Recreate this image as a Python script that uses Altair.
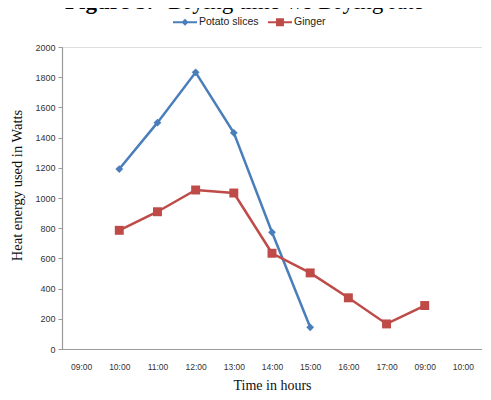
import altair as alt
import pandas as pd

# ---- data ----
time_labels = ["09:00", "10:00", "11:00", "12:00", "13:00", "14:00",
               "15:00", "16:00", "17:00", "09:00", "10:00"]
series_names = ["Potato slices", "Ginger"]
potato_idx = [1, 2, 3, 4, 5, 6]
potato_vals = [1192, 1499, 1832, 1432, 773, 144]
ginger_idx = [1, 2, 3, 4, 5, 6, 7, 8, 9]
ginger_vals = [786, 909, 1053, 1033, 634, 504, 339, 166, 288]
y_ticks = [0, 200, 400, 600, 800, 1000, 1200, 1400, 1600, 1800, 2000]
title_bold = "Figure 5."
title_rest = "Drying time v/s Drying rate"
x_title = "Time in hours"
y_title = "Heat energy used in Watts"
colors = ["#4A7EBB", "#BE4B48"]
shapes = ["diamond", "square"]
sizes = [60, 80]

rows = []
for i, v in zip(potato_idx, potato_vals):
    rows.append({"idx": i, "value": v, "series": series_names[0]})
for i, v in zip(ginger_idx, ginger_vals):
    rows.append({"idx": i, "value": v, "series": series_names[1]})
df = pd.DataFrame(rows)

label_expr = "[" + ",".join("'%s'" % t for t in time_labels) + "][datum.value]"

x_enc = alt.X(
    "idx:O",
    scale=alt.Scale(domain=list(range(len(time_labels))), paddingInner=0, paddingOuter=0),
    axis=alt.Axis(
        title=x_title, labelExpr=label_expr, labelAngle=0, ticks=False,
        labelFont="Liberation Sans", labelFontSize=8.5, labelColor="#333333",
        labelPadding=13, domainColor="#9a9a9a", domainWidth=1.2,
        titleFont="Liberation Serif", titleFontSize=14, titleFontWeight="normal",
        titleColor="#111111", titleY=40, titleBaseline="alphabetic",
    ),
)
y_enc = alt.Y(
    "value:Q",
    scale=alt.Scale(domain=[0, 2000], nice=False),
    axis=alt.Axis(
        title=y_title, values=y_ticks, format="d", grid=False, tickSize=4,
        tickColor="#9a9a9a", domainColor="#9a9a9a", domainWidth=1.2,
        labelFont="Liberation Sans", labelFontSize=9, labelColor="#333333",
        labelPadding=3,
        titleFont="Liberation Serif", titleFontSize=14.5, titleFontWeight="normal",
        titleColor="#111111", titleX=-45, titleY=138, titleBaseline="middle",
        titleAlign="center", titleAngle=-90,
    ),
)

base = alt.Chart(df)
layers = []
for name, col, shp, sz in zip(series_names, colors, shapes, sizes):
    sub = base.transform_filter(alt.datum.series == name)
    layers.append(sub.mark_line(strokeWidth=2.5, color=col).encode(x=x_enc, y=y_enc))
    layers.append(sub.mark_point(filled=True, size=sz, opacity=1, shape=shp, color=col)
                  .encode(x=x_enc, y=y_enc))

# legend-only layer (marks invisible)
sym_potato = "M-1,-0.08H1V0.08H-1Z M0,-0.3L0.3,0L0,0.3L-0.3,0Z"
sym_ginger = "M-1,-0.08H1V0.08H-1Z M-0.33,-0.33H0.33V0.33H-0.33Z"
leg = alt.Legend(
    title=None, orient="none", direction="horizontal", legendX=111, legendY=-37,
    symbolSize=576, symbolStrokeWidth=0, labelFont="Liberation Sans",
    labelFontSize=10.5, labelColor="#222222", labelOffset=2, columnPadding=9,
    symbolOpacity=1,
)
legend_layer = base.mark_point(filled=True, opacity=0).encode(
    x=x_enc, y=y_enc,
    color=alt.Color("series:N", scale=alt.Scale(domain=series_names, range=colors), legend=leg),
    shape=alt.Shape("series:N", scale=alt.Scale(domain=series_names, range=[sym_potato, sym_ginger]), legend=leg),
)
layers.append(legend_layer)

t1 = alt.Chart(pd.DataFrame({"t": [title_bold]})).mark_text(
    align="left", baseline="alphabetic", font="Liberation Serif", fontSize=23,
    fontWeight="bold", color="#000000"
).encode(text="t:N", x=alt.value(3), y=alt.value(-38))
t2 = alt.Chart(pd.DataFrame({"t": [title_rest]})).mark_text(
    align="left", baseline="alphabetic", font="Liberation Serif", fontSize=23,
    fontWeight="normal", color="#000000"
).encode(text="t:N", x=alt.value(106), y=alt.value(-38))
layers += [t1, t2]

chart = alt.layer(*layers).properties(
    width=420, height=302,
    autosize=alt.AutoSizeParams(type="none"),
    padding={"left": 54, "top": 39, "right": 0, "bottom": 43},
).configure_view(stroke=None).configure(background="white")

chart.save("out.html", embed_options={"renderer": "svg", "actions": False})
